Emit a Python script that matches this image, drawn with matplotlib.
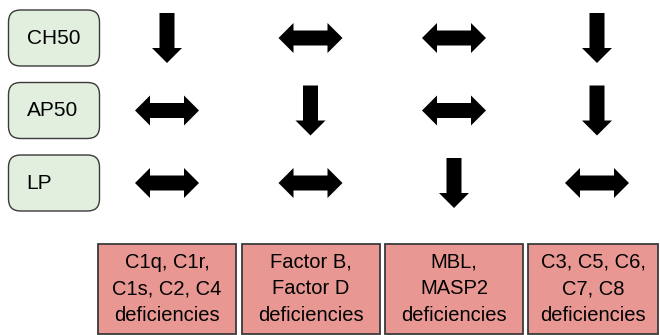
import matplotlib
matplotlib.use("Agg")
import matplotlib.pyplot as plt
from matplotlib.patches import Polygon, Rectangle, FancyBboxPatch

plt.rcParams['font.family'] = ['Liberation Sans', 'DejaVu Sans']

# ---- data ----
assays = ["CH50", "AP50", "LP"]
deficiencies = ["C1q, C1r,\nC1s, C2, C4\ndeficiencies",
                "Factor B,\nFactor D\ndeficiencies",
                "MBL,\nMASP2\ndeficiencies",
                "C3, C5, C6,\nC7, C8\ndeficiencies"]
# "down" = decreased, "both" = normal
effects = [["down", "both", "both", "down"],
           ["both", "down", "both", "down"],
           ["both", "both", "down", "both"]]

# ---- layout (pixel units) ----
W, H = 660, 335
row_y = [38, 110.5, 183]
col_x = [167, 310.5, 454, 597]
green = "#e2efdf"
pink = "#e99792"
edge = "#3a3a3a"

fig = plt.figure(figsize=(W / 100, H / 100), dpi=100)
ax = fig.add_axes([0, 0, 1, 1])
ax.set_xlim(0, W)
ax.set_ylim(H, 0)
ax.axis("off")


def down_arrow(cx, cy):
    L, sw, hw, hl = 50, 15, 30, 15
    pts = [(cx - sw / 2, cy - L / 2), (cx + sw / 2, cy - L / 2),
           (cx + sw / 2, cy + L / 2 - hl), (cx + hw / 2, cy + L / 2 - hl),
           (cx, cy + L / 2), (cx - hw / 2, cy + L / 2 - hl),
           (cx - sw / 2, cy + L / 2 - hl)]
    ax.add_patch(Polygon(pts, closed=True, facecolor="black", edgecolor="none"))


def both_arrow(cx, cy):
    L, sw, hw, hl = 64, 15, 30, 15
    h = L / 2
    pts = [(cx - h, cy), (cx - h + hl, cy - hw / 2), (cx - h + hl, cy - sw / 2),
           (cx + h - hl, cy - sw / 2), (cx + h - hl, cy - hw / 2), (cx + h, cy),
           (cx + h - hl, cy + hw / 2), (cx + h - hl, cy + sw / 2),
           (cx - h + hl, cy + sw / 2), (cx - h + hl, cy + hw / 2)]
    ax.add_patch(Polygon(pts, closed=True, facecolor="black", edgecolor="none"))


# left assay boxes
for i, name in enumerate(assays):
    y = row_y[i]
    ax.add_patch(FancyBboxPatch((8.5, y - 28), 91, 56,
                                boxstyle="round,pad=0,rounding_size=12",
                                facecolor=green, edgecolor=edge, linewidth=1.0))
    ax.text(26.5, y + 0.5, name, ha="left", va="center", fontsize=15, color="black")

# arrows
for i, row in enumerate(effects):
    for j, e in enumerate(row):
        if e == "down":
            down_arrow(col_x[j], row_y[i])
        else:
            both_arrow(col_x[j], row_y[i])

# bottom deficiency boxes
box_left = [98, 242, 385, 528]
for j, lab in enumerate(deficiencies):
    x0 = box_left[j]
    w = 138 if j < 3 else 130
    ax.add_patch(Rectangle((x0, 243.5), w, 90.5, facecolor=pink,
                           edgecolor=edge, linewidth=1.3))
    ax.text(x0 + w / 2, 289, lab, ha="center", va="center", fontsize=14.5,
            linespacing=1.5, color="black")

fig.savefig("out.png", dpi=100)
